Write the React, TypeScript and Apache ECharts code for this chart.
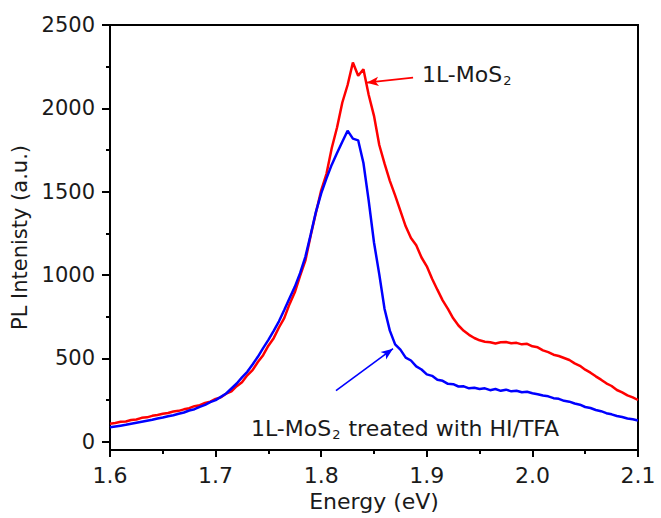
import React, { useEffect, useRef } from "react";
import * as echarts from "echarts";

// sampling grid of the spectra (eV)
const energyStart = 1.6;
const energyStep = 0.005;

const pristinePL = [
  108, 112, 119, 121, 130, 133, 143, 146, 155, 160,
  167, 172, 181, 185, 194, 201, 213, 219, 232, 240,
  257, 266, 288, 302, 333, 357, 398, 429, 478, 519,
  576, 621, 685, 741, 825, 896, 995, 1086, 1235, 1373,
  1508, 1607, 1762, 1885, 2035,
  2140, 2275, 2195, 2235, 2080, 1955, 1780, 1668, 1565, 1478,
  1385, 1292, 1222, 1178, 1105, 1052, 978, 912, 848, 797,
  740, 697, 665, 641, 622, 608, 600, 597, 589, 596,
  598, 590, 593, 584, 587, 572, 566, 548, 537, 522,
  514, 502, 490, 470, 455, 432, 414, 392, 372, 350,
  334, 310, 296, 278, 266, 250,
];

const treatedPL = [
  86, 91, 96, 101, 107, 113, 119, 125, 131, 139,
  145, 153, 159, 167, 175, 187, 195, 209, 221, 237,
  249, 269, 289, 319, 349, 386, 419, 463, 509, 561,
  611, 665, 722, 790, 861, 929, 1011, 1109, 1241, 1379,
  1490, 1580, 1662, 1732, 1800, 1866, 1818, 1808, 1672, 1445,
  1195, 1004, 796, 666, 584, 552, 504, 487, 452, 433,
  404, 395, 371, 365, 347, 345, 331, 332, 320, 324,
  316, 320, 309, 316, 305, 312, 302, 305, 297, 299,
  291, 285, 277, 272, 261, 257, 245, 240, 229, 222,
  208, 202, 190, 183, 171, 164, 154, 148, 139, 134,
  127,
];

const yMajorTicks = [0, 500, 1000, 1500, 2000, 2500];
const yMinorTicks = [250, 750, 1250, 1750, 2250];

// annotation arrows in data coordinates: [from, to]
const pristineArrow = [[1.887, 2184], [1.843, 2154]];
const treatedArrow = [[1.814, 306], [1.868, 558]];

const FONT = "'DejaVu Sans', sans-serif";
const TXT = "#1a1a1a";

function toPairs(vals: number[]) {
  return vals.map((v, i) => [+(energyStart + i * energyStep).toFixed(4), v]);
}

export default function App() {
  const ref = useRef<HTMLDivElement>(null);
  useEffect(() => {
    if (!ref.current) return;
    const chart = echarts.init(ref.current, null, { renderer: "svg" });
    const yBase = {
      type: "value",
      min: -50,
      max: 2500,
      position: "left",
      splitLine: { show: false },
    };
    const rich = {
      a: { fontSize: 22, fontFamily: FONT, fill: TXT, color: TXT },
      s: { fontSize: 13, fontFamily: FONT, fill: TXT, color: TXT, verticalAlign: "bottom", padding: [13, 1, 0, 1] },
    };
    chart.setOption({
      animation: false,
      backgroundColor: "#fff",
      grid: {
        left: 110,
        right: 23,
        top: 25,
        bottom: 68,
        show: true,
        borderColor: "#000",
        borderWidth: 2,
        backgroundColor: "transparent",
      },
      xAxis: {
        type: "value",
        min: 1.6,
        max: 2.1,
        interval: 0.1,
        name: "Energy (eV)",
        nameLocation: "middle",
        nameGap: 35,
        nameTextStyle: { fontSize: 22, fontFamily: FONT, color: TXT },
        axisLine: { show: true, onZero: false, lineStyle: { color: "#000", width: 2 } },
        axisTick: { show: true, inside: false, length: 7, lineStyle: { color: "#000", width: 2 } },
        minorTick: { show: true, splitNumber: 2, length: 4, lineStyle: { color: "#000", width: 2 } },
        axisLabel: {
          fontSize: 22,
          fontFamily: FONT,
          color: TXT,
          margin: 14,
          formatter: (v: number) => v.toFixed(1),
        },
        splitLine: { show: false },
      },
      yAxis: [
        {
          ...yBase,
          name: "PL Intenisty (a.u.)",
          nameLocation: "middle",
          nameGap: 77,
          nameTextStyle: { fontSize: 21, fontFamily: FONT, color: TXT },
          axisLine: { show: true, onZero: false, lineStyle: { color: "#000", width: 2 } },
          axisTick: { show: true, inside: false, length: 8, customValues: yMajorTicks, lineStyle: { color: "#000", width: 2 } },
          axisLabel: {
            fontSize: 21,
            fontFamily: FONT,
            color: TXT,
            margin: 15,
            customValues: yMajorTicks,
            formatter: (v: number) => String(Math.round(v)),
          },
        },
        {
          ...yBase,
          axisLine: { show: false },
          axisTick: { show: true, inside: false, length: 4, customValues: yMinorTicks, lineStyle: { color: "#000", width: 2 } },
          axisLabel: { show: false },
        },
      ],
      series: [
        {
          type: "line",
          data: toPairs(pristinePL),
          showSymbol: false,
          lineStyle: { color: "#ff0000", width: 2.5 },
          itemStyle: { color: "#ff0000" },
          z: 2,
          markLine: {
            silent: true,
            symbol: ["none", "arrow"],
            symbolSize: [7, 12],
            label: { show: false },
            lineStyle: { color: "#ff0000", width: 1.6, type: "solid" },
            data: [[{ coord: pristineArrow[0] }, { coord: pristineArrow[1] }]],
          },
        },
        {
          type: "line",
          data: toPairs(treatedPL),
          showSymbol: false,
          lineStyle: { color: "#0000ff", width: 2.5 },
          itemStyle: { color: "#0000ff" },
          z: 3,
          markLine: {
            silent: true,
            symbol: ["none", "arrow"],
            symbolSize: [7, 12],
            label: { show: false },
            lineStyle: { color: "#0000ff", width: 1.6, type: "solid" },
            data: [[{ coord: treatedArrow[0] }, { coord: treatedArrow[1] }]],
          },
        },
      ],
      graphic: [
        {
          type: "text",
          x: 422,
          y: 74,
          style: {
            text: "{a|1L-MoS}{s|2}",
            verticalAlign: "middle",
            rich,
          },
        },
        {
          type: "text",
          x: 251,
          y: 428,
          style: {
            text: "{a|1L-MoS}{s|2}{a| treated with HI/TFA}",
            verticalAlign: "middle",
            rich,
          },
        },
      ],
    });
    return () => chart.dispose();
  }, []);
  return (
    <div
      ref={ref}
      style={{ position: "fixed", left: 0, top: 0, width: 661, height: 518, background: "#fff" }}
    />
  );
}
